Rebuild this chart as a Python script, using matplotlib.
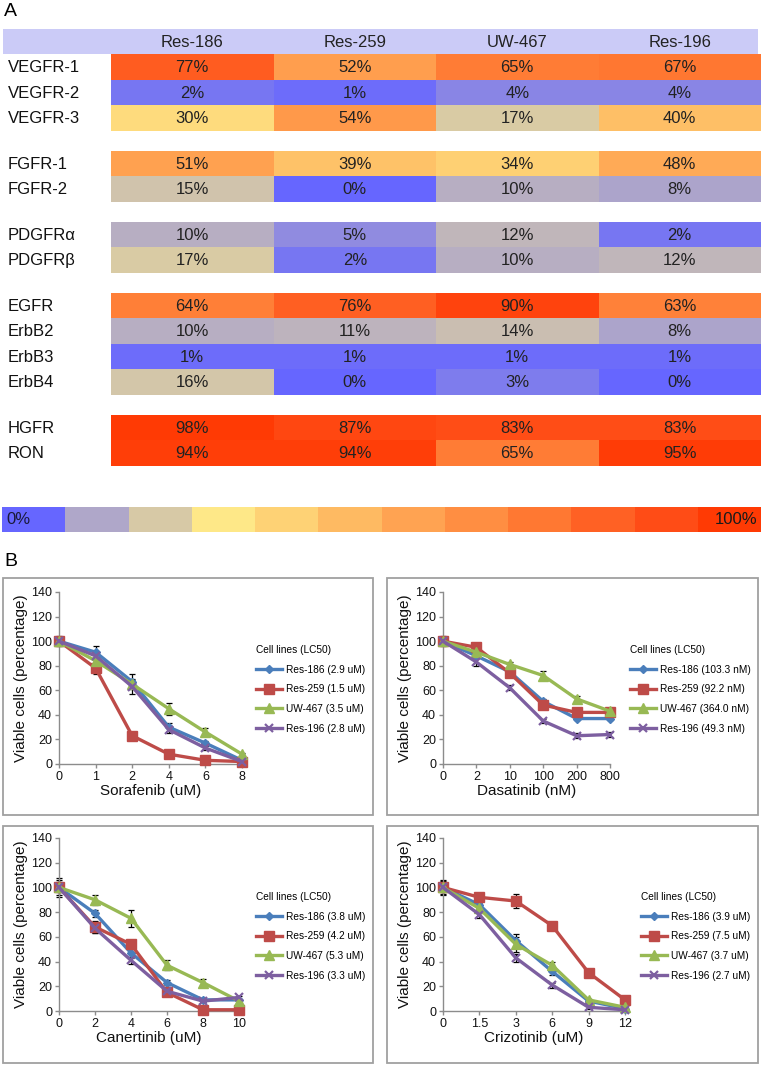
import numpy as np
import matplotlib
matplotlib.use('Agg')
import matplotlib.pyplot as plt
from matplotlib.colors import LinearSegmentedColormap
from matplotlib.patches import Rectangle

plt.rcParams['font.family'] = ['Liberation Sans', 'DejaVu Sans']

# ---- Panel A data ----
cell_lines = ['Res-186', 'Res-259', 'UW-467', 'Res-196']
receptors = ['VEGFR-1', 'VEGFR-2', 'VEGFR-3',
             'FGFR-1', 'FGFR-2',
             'PDGFRα', 'PDGFRβ',
             'EGFR', 'ErbB2', 'ErbB3', 'ErbB4',
             'HGFR', 'RON']
group_sizes = [3, 2, 2, 4, 2]
activation = np.array([
    [77, 52, 65, 67],
    [2, 1, 4, 4],
    [30, 54, 17, 40],
    [51, 39, 34, 48],
    [15, 0, 10, 8],
    [10, 5, 12, 2],
    [17, 2, 10, 12],
    [64, 76, 90, 63],
    [10, 11, 14, 8],
    [1, 1, 1, 1],
    [16, 0, 3, 0],
    [98, 87, 83, 83],
    [94, 94, 65, 95],
])

# ---- Panel B data ----
legend_names = ['Res-186', 'Res-259', 'UW-467', 'Res-196']

sorafenib_dose = ['0', '1', '2', '4', '6', '8']
sorafenib_lc50 = ['2.9 uM', '1.5 uM', '3.5 uM', '2.8 uM']
sorafenib = [[100, 91, 67, 30, 17, 3],
             [100, 78, 23, 8, 3, 2],
             [100, 84, 65, 45, 26, 8],
             [100, 88, 63, 28, 13, 2]]
sorafenib_err = [[3, 5, 6, 3, 2, 1],
                 [3, 5, 2, 1, 1, 1],
                 [2, 3, 3, 5, 3, 1],
                 [4, 3, 6, 3, 2, 1]]

dasatinib_dose = ['0', '2', '10', '100', '200', '800']
dasatinib_lc50 = ['103.3 nM', '92.2 nM', '364.0 nM', '49.3 nM']
dasatinib = [[100, 88, 75, 51, 37, 37],
             [100, 95, 74, 48, 42, 42],
             [100, 91, 81, 72, 53, 43],
             [100, 83, 62, 35, 23, 24]]
dasatinib_err = [[3, 2, 3, 2, 1, 1],
                 [2, 2, 3, 2, 1, 1],
                 [2, 2, 2, 4, 2, 1],
                 [4, 3, 2, 2, 2, 2]]

canertinib_dose = ['0', '2', '4', '6', '8', '10']
canertinib_lc50 = ['3.8 uM', '4.2 uM', '5.3 uM', '3.3 uM']
canertinib = [[100, 79, 47, 23, 9, 9],
              [100, 68, 54, 15, 1, 1],
              [100, 90, 75, 37, 23, 8],
              [100, 67, 41, 16, 8, 11]]
canertinib_err = [[4, 3, 4, 2, 1, 1],
                  [3, 5, 3, 1, 1, 1],
                  [8, 4, 7, 4, 3, 1],
                  [6, 4, 3, 2, 1, 1]]

crizotinib_dose = ['0', '1.5', '3', '6', '9', '12']
crizotinib_lc50 = ['3.9 uM', '7.5 uM', '3.7 uM', '2.7 uM']
crizotinib = [[100, 86, 57, 32, 8, 2],
              [100, 92, 89, 69, 31, 9],
              [100, 83, 54, 37, 9, 3],
              [100, 78, 43, 21, 3, 1]]
crizotinib_err = [[5, 3, 5, 3, 1, 1],
                  [6, 3, 6, 3, 1, 1],
                  [3, 4, 6, 3, 1, 1],
                  [4, 3, 3, 2, 1, 1]]

# ---- styles ----
W, H = 761, 1066
scale_colors = ['#6666FF', '#B0A8C8', '#D8CAA5', '#FEE888', '#FED275', '#FEBA62',
                '#FFA452', '#FF8E42', '#FF7832', '#FF6224', '#FF4C16', '#FF3A04']
n_seg = len(scale_colors)
# colour anchors a bit further apart near the top so 94% stays orange-red
anchors = list(np.arange(n_seg - 1) / n_seg) + [0.97, 1.0]
cmap = LinearSegmentedColormap.from_list(
    'act', list(zip(anchors, scale_colors + [scale_colors[-1]])))
line_colors = ['#4A7EBB', '#BE4B48', '#98B954', '#7D5FA0']
markers = [('D', 4, 1), ('s', 6.5, 1), ('^', 6.5, 1), ('x', 5.5, 1.6)]


def px(x0, y0, x1, y1):
    return [x0 / W, 1 - y1 / H, (x1 - x0) / W, (y1 - y0) / H]


fig = plt.figure(figsize=(W / 100, H / 100), dpi=100)

# ================= Panel A =================
ax = fig.add_axes([0, 0, 1, 1])
ax.set_xlim(0, W)
ax.set_ylim(H, 0)
ax.axis('off')

fig.text(4 / W, 1 - 12 / H, 'A', fontsize=14, va='center', ha='left')

label_w = 111
col_w = (W - label_w) / len(cell_lines)
row_h = 25.5
gap = 20
top = 54
fs = 12

ax.add_patch(Rectangle((3, 29), W - 6, top - 29, color='#CBCBF7', lw=0))
for j, name in enumerate(cell_lines):
    ax.text(label_w + col_w * (j + 0.5), (29 + top) / 2 + 1, name,
            ha='center', va='center', fontsize=fs, color='#222222')

x_edges = label_w + col_w * np.arange(len(cell_lines) + 1)
y = top
r = 0
for g in group_sizes:
    y_edges = y + row_h * np.arange(g + 1)
    ax.pcolormesh(x_edges, y_edges, activation[r:r + g], cmap=cmap,
                  vmin=0, vmax=100, shading='flat')
    for i in range(g):
        yc = y + row_h * (i + 0.5) + 1
        ax.text(8, yc, receptors[r + i], ha='left', va='center',
                fontsize=fs, color='#111111')
        for j in range(len(cell_lines)):
            ax.text(label_w + col_w * (j + 0.5), yc,
                    f'{activation[r + i, j]}%', ha='center', va='center',
                    fontsize=fs, color='#222222')
    y += row_h * g + gap
    r += g

# colour scale: one block per anchor colour
seg_vals = (np.array(anchors[:n_seg]) * 100).reshape(1, -1)
ax.pcolormesh(np.linspace(2, W, n_seg + 1), [507, 532], seg_vals,
              cmap=cmap, vmin=0, vmax=100, shading='flat')
ax.text(6, 520, '0%', ha='left', va='center', fontsize=fs, color='#1A1A3A')
ax.text(W - 4, 520, '100%', ha='right', va='center', fontsize=fs, color='#1A1A1A')

# ================= Panel B =================
fig.text(4 / W, 1 - 562 / H, 'B', fontsize=14, va='center', ha='left')

boxes = [(3, 578, 373, 815), (387, 578, 758, 815),
         (3, 826, 373, 1063), (387, 826, 758, 1063)]
for b in boxes:
    fig.add_artist(Rectangle((b[0] / W, 1 - b[3] / H), (b[2] - b[0]) / W,
                             (b[3] - b[1]) / H, transform=fig.transFigure,
                             fill=False, ec='#A0A0A0', lw=1.3))

panels = [
    (sorafenib_dose, sorafenib, sorafenib_err, sorafenib_lc50, 'Sorafenib (uM)',
     (59, 592, 242, 764), (256, 645)),
    (dasatinib_dose, dasatinib, dasatinib_err, dasatinib_lc50, 'Dasatinib (nM)',
     (443, 592, 610, 764), (630, 645)),
    (canertinib_dose, canertinib, canertinib_err, canertinib_lc50, 'Canertinib (uM)',
     (59, 838, 239, 1011), (256, 892)),
    (crizotinib_dose, crizotinib, crizotinib_err, crizotinib_lc50, 'Crizotinib (uM)',
     (443, 838, 625, 1011), (641, 892)),
]

for dose, vals, errs, lc50, xlabel, rect, leg_xy in panels:
    a = fig.add_axes(px(*rect))
    xs = np.arange(len(dose))
    for k in range(4):
        a.errorbar(xs, vals[k], yerr=errs[k], fmt='none', ecolor='black',
                   elinewidth=0.9, capsize=2, capthick=0.9, zorder=2, clip_on=False)
    for k in range(4):
        m, ms, mew = markers[k]
        a.plot(xs, vals[k], color=line_colors[k], lw=2.4, marker=m, ms=ms,
               mew=mew, mec=line_colors[k], zorder=3 + k, clip_on=False,
               label=f'{legend_names[k]} ({lc50[k]})')
    a.set_xlim(0, len(dose) - 1)
    a.set_ylim(0, 140)
    a.set_yticks(np.arange(0, 141, 20))
    a.set_xticks(xs)
    a.set_xticklabels(dose)
    for s in ['top', 'right']:
        a.spines[s].set_visible(False)
    for s in ['left', 'bottom']:
        a.spines[s].set_color('#8C8C8C')
        a.spines[s].set_linewidth(1)
    a.tick_params(axis='both', labelsize=9, colors='#8C8C8C', labelcolor='#111111',
                  length=3, width=1, pad=2)
    a.set_xlabel(xlabel, fontsize=11, labelpad=1, color='#111111')
    a.set_ylabel('Viable cells (percentage)', fontsize=11, labelpad=2, color='#111111')
    leg = a.legend(loc='upper left', bbox_to_anchor=(leg_xy[0] / W, 1 - leg_xy[1] / H),
                   bbox_transform=fig.transFigure, frameon=False, fontsize=7.3,
                   title='Cell lines (LC50)', title_fontsize=7.3, alignment='left',
                   handlelength=2.6, handletextpad=0.4, labelspacing=0.95,
                   borderpad=0, borderaxespad=0)

fig.savefig('out.png', dpi=100)
